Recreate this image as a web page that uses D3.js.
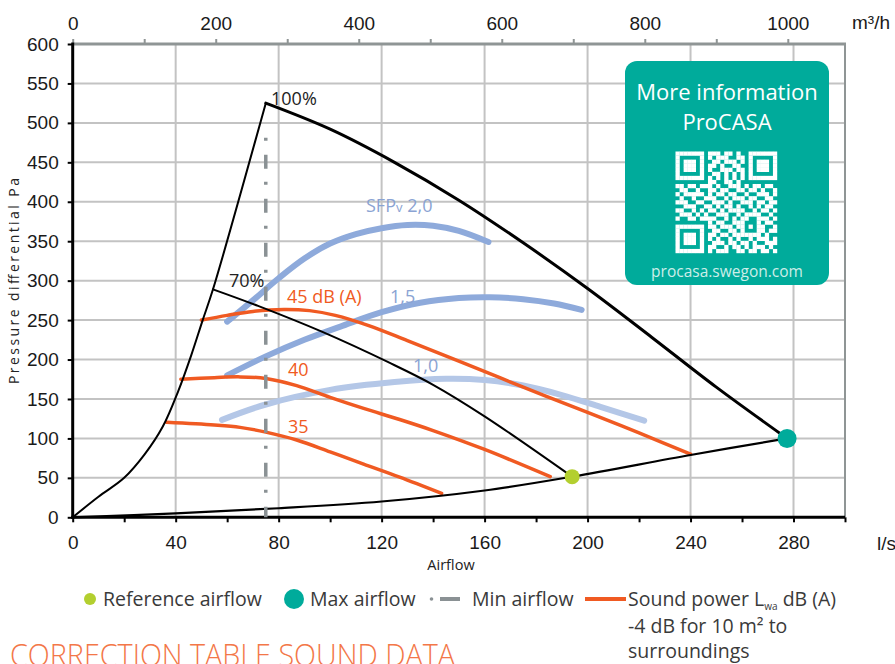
<!DOCTYPE html>
<html>
<head>
<meta charset="utf-8">
<script src="https://cdn.jsdelivr.net/npm/d3@7"></script>
<style>
  body { margin: 0; background: #fff; }
  svg { display: block; font-family: "Open Sans", sans-serif; }
</style>
</head>
<body>
<div id="chart"></div>
<script>
// 坐标轴刻度
const xTicks = [0, 40, 80, 120, 160, 200, 240, 280];
const xMinorTicks = [20, 60, 100, 140, 180, 220, 260, 300];
const yTicks = [0, 50, 100, 150, 200, 250, 300, 350, 400, 450, 500, 550, 600];
const topTicks = [0, 200, 400, 600, 800, 1000];
const topMinorTicks = [100, 300, 500, 700, 900];

// 风机曲线 [l/s, Pa]
const fan100 = [[75, 525], [100, 492], [125, 450], [150, 402], [175, 348], [200, 290], [225, 228], [250, 165], [277.5, 100]];
const fan70 = [[54.5, 289], [72, 268], [97, 235], [123, 196], [140, 168], [160, 128], [194, 51.5]];
const leftLimit = [[0, 0], [10, 26], [20, 50], [28, 80], [35, 115], [41, 160], [46, 205], [50.5, 250], [54.5, 289], [75, 525]];
const systemCurve = [[0, 0], [40, 5], [80, 11.5], [120, 20], [160, 34], [194, 51.5], [240, 79], [277.5, 100]];

// SFP 曲线
const sfp20 = [[60, 248], [70, 275], [80, 303], [90, 328], [100, 347], [110, 359], [120, 366.5], [130, 370.5], [140, 369.5], [150, 363], [161.5, 349]];
const sfp15 = [[60, 180], [75, 204], [90, 225], [105, 243], [120, 260], [135, 272], [150, 278], [162, 279], [175, 276.5], [187, 271], [197.7, 263]];
const sfp10 = [[58, 123.5], [75, 143], [100, 161.5], [125, 171.5], [145, 175.5], [160, 174], [175, 167], [190, 155], [205, 140], [222, 122.5]];

// 声功率曲线
const sound45 = [[50, 250], [60, 256], [70, 261], [82, 263.5], [92, 262], [102, 256], [115, 243], [130, 224], [150, 198], [175, 165], [200, 133], [220, 107], [240, 80]];
const sound40 = [[42, 175], [55, 177], [65, 178], [75, 176], [87, 167], [100, 152], [113, 138], [127, 124], [140, 110], [160, 86], [185.5, 51.5]];
const sound35 = [[36.5, 120.4], [55, 117], [65, 114], [75, 108], [87, 98], [100, 83], [113, 67.5], [127, 51], [143.3, 30.4]];

const refPoint = [194, 51.5];
const maxPoint = [277.5, 100];
const minAirflow = 75;
const minAirflowTop = 481;

// 二维码（1 = 白色模块）
const qrRows = [
  "1111111011101101001111111",
  "1000001010111001101000001",
  "1011101001101110101011101",
  "1011101011010011001011101",
  "1011101010011101101011101",
  "1000001001101010101000001",
  "1111111010101010101111111",
  "0000000011001101000000000",
  "1101101110100111010110110",
  "0110010011011001101101001",
  "1011111010110110010011101",
  "0100100111001011101100110",
  "1110011001110100111011011",
  "0011100110101101001010110",
  "1100101011010111100101101",
  "0111010100111001011110010",
  "1001101111001010110011101",
  "0000000010110011100010110",
  "1111111011011101101011001",
  "1000001001100110100011011",
  "1011101011011011111110100",
  "1011101010100101001011101",
  "1011101001110110110100111",
  "1000001011001011010111010",
  "1111111010111001101101101"
];

const colors = {
  grid: "#c3c3c3",
  frame: "#8f9595",
  sfpDark: "#8eaadb",
  sfpLight: "#b4c7e7",
  sfpText: "#8aa3d3",
  sound: "#f05a22",
  teal: "#00ab9b",
  refGreen: "#b3cf2f",
  minGray: "#8a9194",
  text: "#3a3a3a",
  title: "#f37748"
};

const W = 895, H = 664;
const svg = d3.select("#chart").append("svg")
  .attr("width", W).attr("height", H);

const x = d3.scaleLinear().domain([0, 300]).range([72.7, 845]);
const y = d3.scaleLinear().domain([0, 600]).range([517.3, 44]);
const xTop = d3.scaleLinear().domain([0, 1080]).range([72.7, 845]);

// 网格
const grid = svg.append("g");
grid.selectAll("line.v").data(xTicks.filter(d => d > 0))
  .enter().append("line")
  .attr("x1", d => x(d)).attr("x2", d => x(d))
  .attr("y1", y(600)).attr("y2", y(0))
  .style("stroke", colors.grid).style("stroke-width", 2);
grid.selectAll("line.h").data(yTicks.filter(d => d > 0 && d < 600))
  .enter().append("line")
  .attr("x1", x(0)).attr("x2", x(300))
  .attr("y1", d => y(d)).attr("y2", d => y(d))
  .style("stroke", colors.grid).style("stroke-width", 2);

// 外框（上、右为灰色）
svg.append("line").attr("x1", x(0)).attr("x2", x(300) + 1).attr("y1", y(600)).attr("y2", y(600))
  .style("stroke", colors.frame).style("stroke-width", 3);
svg.append("line").attr("x1", x(300)).attr("x2", x(300)).attr("y1", y(600)).attr("y2", y(0))
  .style("stroke", colors.frame).style("stroke-width", 2);

// 坐标轴
const tickFont = "'Liberation Sans Narrow', 'Liberation Sans', Arial, sans-serif";

function styleAxis(g, stroke) {
  g.select(".domain").remove();
  g.selectAll(".tick line").style("stroke", stroke).style("stroke-width", 2);
  g.selectAll(".tick text").style("font-family", tickFont).style("font-size", "19px").style("fill", "#1a1a1a");
}

const leftAxis = svg.append("g")
  .attr("transform", `translate(${x(0)},0)`)
  .call(d3.axisLeft(y).tickValues(yTicks).tickSize(5).tickPadding(9));
styleAxis(leftAxis, "#000");

const bottomAxis = svg.append("g")
  .attr("transform", `translate(0,${y(0)})`)
  .call(d3.axisBottom(x).tickValues(xTicks.concat(xMinorTicks)).tickSize(5).tickPadding(13)
    .tickFormat(d => xTicks.includes(d) ? d : ""));
styleAxis(bottomAxis, "#000");

const topAxis = svg.append("g")
  .attr("transform", `translate(0,${y(600)})`)
  .call(d3.axisTop(xTop).tickValues(topTicks.concat(topMinorTicks)).tickSize(5).tickPadding(9)
    .tickFormat(d => topTicks.includes(d) ? d : ""));
styleAxis(topAxis, colors.frame);

svg.append("line").attr("x1", x(0)).attr("x2", x(0)).attr("y1", y(600) - 1.5).attr("y2", y(0) + 1.5)
  .style("stroke", "#000").style("stroke-width", 3);
svg.append("line").attr("x1", x(0) - 1.5).attr("x2", x(300)).attr("y1", y(0)).attr("y2", y(0))
  .style("stroke", "#000").style("stroke-width", 3);

svg.append("text").attr("x", 852).attr("y", 29)
  .style("font-family", tickFont).style("font-size", "19px").style("fill", "#1a1a1a")
  .text("m³/h");
svg.append("text").attr("x", 877).attr("y", 550)
  .style("font-family", tickFont).style("font-size", "19px").style("fill", "#1a1a1a")
  .text("l/s");

svg.append("text")
  .attr("transform", `translate(19,${281}) rotate(-90)`)
  .attr("text-anchor", "middle")
  .attr("textLength", 206).attr("lengthAdjust", "spacing")
  .style("font-size", "14px").style("fill", "#222")
  .text("Pressure differential Pa");
svg.append("text").attr("x", 451).attr("y", 570).attr("text-anchor", "middle")
  .style("font-size", "14.5px").style("fill", "#222")
  .text("Airflow");

// 曲线
const line = d3.line().x(d => x(d[0])).y(d => y(d[1])).curve(d3.curveCatmullRom.alpha(0.5));
const plot = svg.append("g");

function drawCurve(data, color, width) {
  plot.append("path").datum(data)
    .attr("d", line)
    .style("fill", "none").style("stroke", color).style("stroke-width", width)
    .style("stroke-linecap", "round").style("stroke-linejoin", "round");
}

drawCurve(sfp10, colors.sfpLight, 6);
drawCurve(sfp15, colors.sfpDark, 6);
drawCurve(sfp20, colors.sfpDark, 6);
drawCurve(sound45, colors.sound, 3.5);
drawCurve(sound40, colors.sound, 3.5);
drawCurve(sound35, colors.sound, 3.5);
drawCurve(systemCurve, "#000", 2.2);
drawCurve(fan70, "#000", 2);
drawCurve(leftLimit, "#000", 2);
drawCurve(fan100, "#000", 3);

// 最小风量线
plot.append("line")
  .attr("x1", x(minAirflow)).attr("x2", x(minAirflow))
  .attr("y1", y(minAirflowTop)).attr("y2", y(0))
  .style("stroke", colors.minGray).style("stroke-width", 3.5)
  .style("stroke-dasharray", "3 14 14 13");

// 点
plot.append("circle").attr("cx", x(refPoint[0])).attr("cy", y(refPoint[1])).attr("r", 7.5)
  .style("fill", colors.refGreen);
plot.append("circle").attr("cx", x(maxPoint[0])).attr("cy", y(maxPoint[1])).attr("r", 9.5)
  .style("fill", colors.teal);

// 曲线标签
const labels = svg.append("g").style("font-size", "18px");
labels.append("text").attr("x", 271).attr("y", 105).style("fill", "#222").text("100%");
labels.append("text").attr("x", 229).attr("y", 287).style("fill", "#222").text("70%");
labels.append("text").attr("x", 287).attr("y", 303).style("fill", colors.sound).text("45 dB (A)");
labels.append("text").attr("x", 288).attr("y", 376).style("fill", colors.sound).text("40");
labels.append("text").attr("x", 288).attr("y", 433).style("fill", colors.sound).text("35");
const sfpLabel = labels.append("text").attr("x", 366).attr("y", 212).style("fill", colors.sfpText);
sfpLabel.append("tspan").text("SFP");
sfpLabel.append("tspan").style("font-size", "13px").text("v");
sfpLabel.append("tspan").text(" 2,0");
labels.append("text").attr("x", 390).attr("y", 303).style("fill", colors.sfpText).text("1,5");
labels.append("text").attr("x", 413).attr("y", 372).style("fill", colors.sfpText).text("1,0");

// ProCASA 信息框
const box = svg.append("g");
box.append("rect").attr("x", 625).attr("y", 61).attr("width", 204).attr("height", 224)
  .attr("rx", 12).style("fill", colors.teal);
box.append("text").attr("x", 727).attr("y", 100).attr("text-anchor", "middle")
  .style("font-size", "22px").style("fill", "#fff").text("More information");
box.append("text").attr("x", 727).attr("y", 130).attr("text-anchor", "middle")
  .style("font-size", "22px").style("fill", "#fff").text("ProCASA");
box.append("text").attr("x", 727).attr("y", 277).attr("text-anchor", "middle")
  .style("font-size", "15.5px").style("fill", "#cdeee9").text("procasa.swegon.com");

const qrSize = 4.06, qrX = 675.5, qrY = 151.5;
const qrCells = [];
qrRows.forEach((row, r) => row.split("").forEach((c, col) => { if (c === "1") qrCells.push([r, col]); }));
box.selectAll("rect.qr").data(qrCells).enter().append("rect")
  .attr("x", d => qrX + d[1] * qrSize).attr("y", d => qrY + d[0] * qrSize)
  .attr("width", qrSize + 0.2).attr("height", qrSize + 0.2)
  .style("fill", "#fff");

// 图例
const legend = svg.append("g").style("font-size", "19.5px").style("fill", colors.text);
legend.append("circle").attr("cx", 90).attr("cy", 599).attr("r", 6).style("fill", colors.refGreen);
legend.append("text").attr("x", 103).attr("y", 606).text("Reference airflow");
legend.append("circle").attr("cx", 294).attr("cy", 599).attr("r", 10).style("fill", colors.teal);
legend.append("text").attr("x", 310).attr("y", 606).text("Max airflow");
legend.append("circle").attr("cx", 431.5).attr("cy", 599).attr("r", 1.8).style("fill", colors.minGray);
legend.append("line").attr("x1", 440).attr("x2", 460).attr("y1", 599).attr("y2", 599)
  .style("stroke", colors.minGray).style("stroke-width", 4);
legend.append("text").attr("x", 472).attr("y", 606).text("Min airflow");
legend.append("line").attr("x1", 585).attr("x2", 626).attr("y1", 599).attr("y2", 599)
  .style("stroke", colors.sound).style("stroke-width", 4);
const sp = legend.append("text").attr("x", 628).attr("y", 606);
sp.append("tspan").text("Sound power L");
sp.append("tspan").attr("dy", 3.5).style("font-size", "10px").text("wa");
sp.append("tspan").attr("dy", -3.5).text(" dB (A)");
legend.append("text").attr("x", 628).attr("y", 633).text("-4 dB for 10 m² to");
legend.append("text").attr("x", 628).attr("y", 658).text("surroundings");

// 标题
svg.append("text").attr("x", 10).attr("y", 666)
  .attr("textLength", 445).attr("lengthAdjust", "spacingAndGlyphs")
  .style("font-size", "31px").style("font-weight", 300).style("fill", colors.title)
  .text("CORRECTION TABLE SOUND DATA");
</script>
</body>
</html>
